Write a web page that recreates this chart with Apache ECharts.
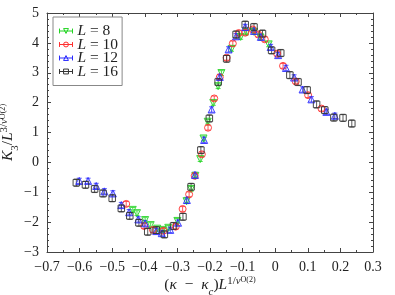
<!DOCTYPE html>
<html><head><meta charset="utf-8">
<script src="https://cdn.jsdelivr.net/npm/echarts@6/dist/echarts.min.js"></script>
<style>html,body{margin:0;padding:0;background:#fff}#c{width:395px;height:295px}</style>
</head><body><div id="c"></div>
<script>
// ---- data ----
const seriesNames = ['L = 8', 'L = 10', 'L = 12', 'L = 16'];
const xL8  = [-0.437,-0.424,-0.399,-0.382,-0.362,-0.345,-0.328,-0.300,-0.272,-0.258,-0.245,-0.230,-0.220,-0.207,-0.190,-0.175,-0.165,-0.134,-0.106,-0.088,-0.065,-0.045,-0.020];
const yL8  = [-1.59,-1.70,-1.93,-2.10,-2.22,-2.26,-2.19,-1.96,-1.30,-0.89,-0.45,0.11,0.80,1.36,1.99,2.55,2.99,3.80,4.20,4.35,4.37,4.18,3.95];
const xL10 = [-0.457,-0.402,-0.375,-0.343,-0.305,-0.284,-0.264,-0.247,-0.225,-0.206,-0.187,-0.170,-0.149,-0.130,-0.112,-0.092,-0.069,-0.052,-0.032,0.006,0.024,0.063,0.101,0.142];
const yL10 = [-1.39,-2.13,-2.26,-2.29,-2.15,-1.56,-1.07,-0.45,0.27,1.16,2.14,2.85,3.50,3.98,4.33,4.34,4.45,4.28,4.12,3.64,3.23,2.71,2.25,1.80];
const xL12 = [-0.601,-0.574,-0.549,-0.524,-0.498,-0.472,-0.448,-0.420,-0.399,-0.365,-0.348,-0.322,-0.298,-0.271,-0.246,-0.218,-0.195,-0.170,-0.143,-0.120,-0.092,-0.065,-0.044,-0.014,0.009,0.033,0.058,0.084,0.111,0.157,0.183];
const yL12 = [-0.62,-0.62,-0.79,-0.97,-1.04,-1.43,-1.67,-1.91,-2.04,-2.30,-2.37,-2.26,-2.02,-1.26,-0.42,0.75,1.77,2.86,3.78,4.22,4.53,4.40,4.20,3.86,3.59,3.16,2.84,2.44,2.11,1.69,1.56];
const xL16 = [-0.610,-0.582,-0.554,-0.528,-0.500,-0.472,-0.446,-0.418,-0.391,-0.365,-0.340,-0.312,-0.283,-0.258,-0.228,-0.202,-0.175,-0.149,-0.120,-0.092,-0.065,-0.039,-0.011,0.017,0.045,0.070,0.098,0.127,0.152,0.180,0.208,0.235];
const yL16 = [-0.68,-0.75,-0.89,-1.04,-1.20,-1.54,-1.79,-2.02,-2.32,-2.27,-2.41,-2.13,-1.82,-0.82,0.41,1.47,2.69,3.47,4.28,4.61,4.53,4.31,3.75,3.66,2.92,2.69,2.42,1.94,1.75,1.50,1.49,1.30];
const errL = [0.08, 0.08, 0.09, 0.12]; // typical error-bar half-length per series
const xTicks = [-0.7,-0.6,-0.5,-0.4,-0.3,-0.2,-0.1,0,0.1,0.2,0.3];
const yTicks = [-3,-2,-1,0,1,2,3,4,5];

// ---- styling ----
const colors = ['#22d422', '#ff3030', '#2a2aff', '#333333'];
const symbols = ['triangle', 'circle', 'triangle', 'rect'];
const rotations = [180, 0, 0, 0];
const legendIcons = [
  'path://M0,5L16,5M0,2L0,8M16,2L16,8M5,2L11,2L8,8Z',
  'path://M0,5L16,5M0,2L0,8M16,2L16,8M11,5A3,3,0,1,1,5,5A3,3,0,1,1,11,5Z',
  'path://M0,5L16,5M0,2L0,8M16,2L16,8M5,8L11,8L8,2Z',
  'path://M0,5L16,5M0,2L0,8M16,2L16,8M5,2L11,2L11,8L5,8Z'
];
const serif = 'Liberation Serif';
const xs = [xL8, xL10, xL12, xL16];
const ys = [yL8, yL10, yL12, yL16];

const minus = s => s.replace('-', '\u2212');
const fmtX = v => Math.abs(v) < 1e-9 ? '0' : minus(v.toFixed(1));
const fmtY = v => minus(String(Math.round(v)));

const series = [];
for (let k = 0; k < 4; k++) {
  const d = xs[k].map((x, i) => [x, ys[k][i]]);
  series.push({
    type: 'custom', name: seriesNames[k] + '_err', silent: true, z: 3,
    data: d.map(p => [p[0], p[1], errL[k]]),
    renderItem: (params, api) => {
      const x = api.value(0), y = api.value(1), e = api.value(2);
      const a = api.coord([x, y + e]), b = api.coord([x, y - e]);
      const c = colors[k], w = 2.5;
      return { type: 'group', children: [
        { type: 'line', shape: { x1: a[0], y1: a[1], x2: b[0], y2: b[1] }, style: { stroke: c, lineWidth: 0.8 } },
        { type: 'line', shape: { x1: a[0]-w, y1: a[1], x2: a[0]+w, y2: a[1] }, style: { stroke: c, lineWidth: 0.8 } },
        { type: 'line', shape: { x1: b[0]-w, y1: b[1], x2: b[0]+w, y2: b[1] }, style: { stroke: c, lineWidth: 0.8 } }
      ]};
    }
  });
  series.push({
    type: 'scatter', name: seriesNames[k], data: d, z: 4,
    symbol: symbols[k], symbolRotate: rotations[k], symbolSize: k === 3 ? 6.5 : 7,
    itemStyle: { color: 'rgba(255,255,255,0)', borderColor: colors[k], borderWidth: 0.9, opacity: 1 },
    emphasis: { disabled: true }
  });
}

const chart = echarts.init(document.getElementById('c'), null, { renderer: 'canvas' });
const axisCommon = {
  axisLine: { show: true, onZero: false, lineStyle: { color: '#444', width: 1 } },
  axisTick: { show: true, inside: true, length: 4, lineStyle: { color: '#444' } },
  minorTick: { show: true, length: 2, lineStyle: { color: '#444' } },
  splitLine: { show: false }
};
const mkRich = (fs) => ({
  it: { fontFamily: serif, fontSize: fs, fontStyle: 'italic', color: '#222' },
  n: { fontFamily: serif, fontSize: fs, color: '#222' },
  sub: { fontFamily: serif, fontSize: fs * 0.7, fontStyle: 'italic', color: '#222', verticalAlign: 'bottom', padding: [0,0,-4,0] },
  subn: { fontFamily: serif, fontSize: fs * 0.7, color: '#222', verticalAlign: 'bottom', padding: [0,0,-4,0] },
  sup: { fontFamily: serif, fontSize: fs * 0.7, fontStyle: 'italic', color: '#222', verticalAlign: 'top', padding: [0,0,7,0] },
  supn: { fontFamily: serif, fontSize: fs * 0.7, color: '#222', verticalAlign: 'top', padding: [0,0,7,0] },
  sub2: { fontFamily: serif, fontSize: fs * 0.52, color: '#222', verticalAlign: 'top', padding: [0,0,3,0] }
});
chart.setOption({
  animation: false,
  grid: { left: 47, right: 22, top: 13, bottom: 43, outerBoundsMode: 'none' },
  legend: {
    left: 53, top: 17, orient: 'vertical',
    data: seriesNames.map((n, i) => ({ name: n, icon: legendIcons[i],
      itemStyle: { color: 'rgba(255,255,255,0)', borderColor: colors[i], borderWidth: 1 } })),
    itemWidth: 13, itemHeight: 6, itemGap: -2.5,
    padding: [6, 4, 6, 6],
    borderColor: '#888', borderWidth: 1, backgroundColor: '#fff',
    formatter: n => '{i|L}' + n.slice(1),
    textStyle: { fontFamily: serif, fontSize: 15.5, color: '#222',
      rich: { i: { fontFamily: serif, fontSize: 15.5, fontStyle: 'italic', color: '#222' } } }
  },
  xAxis: [
    Object.assign({}, axisCommon, {
      type: 'value', min: -0.7, max: 0.3, interval: 0.1, minorTick: Object.assign({ splitNumber: 2 }, axisCommon.minorTick),
      axisLabel: { formatter: fmtX, fontFamily: serif, fontSize: 14, color: '#222', margin: 8 },
      name: '{n|(}{it|κ}{n|\u2002\u2212\u2002}{it|κ}{sub|c}{n|)}{it|L}{supn|1/}{sup|ν}{sub2|O(2)}',
      nameLocation: 'middle', nameGap: 24, nameMoveOverlap: false,
      nameTextStyle: { fontFamily: serif, fontSize: 15.5, color: '#222', rich: mkRich(15.5) }
    }),
    Object.assign({}, axisCommon, {
      type: 'value', position: 'top', min: -0.7, max: 0.3, interval: 0.1,
      minorTick: Object.assign({ splitNumber: 2 }, axisCommon.minorTick),
      axisLabel: { show: false }
    })
  ],
  yAxis: [
    Object.assign({}, axisCommon, {
      type: 'value', min: -3, max: 5, interval: 1, minorTick: Object.assign({ splitNumber: 5 }, axisCommon.minorTick),
      axisLabel: { formatter: fmtY, fontFamily: serif, fontSize: 14, color: '#222', margin: 8 },
      name: '{it|K}{subn|3}{n|/}{it|L}{supn|3/}{sup|ν}{sub2|O(2)}',
      nameLocation: 'middle', nameGap: 30, nameRotate: 90, nameMoveOverlap: false,
      nameTextStyle: { fontFamily: serif, fontSize: 15.5, color: '#222', rich: mkRich(15.5) }
    }),
    Object.assign({}, axisCommon, {
      type: 'value', position: 'right', min: -3, max: 5, interval: 1,
      minorTick: Object.assign({ splitNumber: 5 }, axisCommon.minorTick),
      axisLabel: { show: false }
    })
  ],
  series: series
});
</script>
</body></html>
